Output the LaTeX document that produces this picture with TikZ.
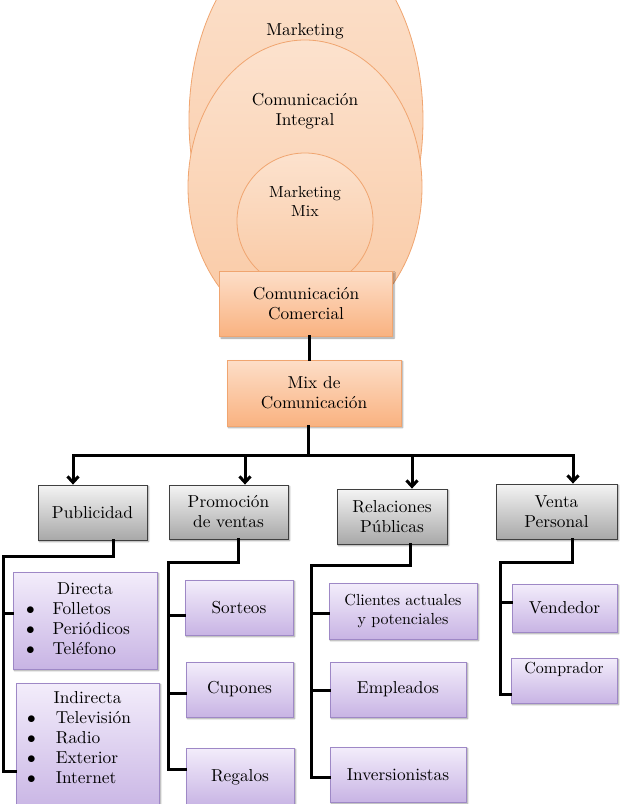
\documentclass[tikz,border=0pt]{standalone}
\usepackage{fontspec}
\setmainfont{lmroman10-regular.otf}[BoldFont=lmroman10-bold.otf, ItalicFont=lmroman10-italic.otf]
\usepackage{tikz}
\usetikzlibrary{shapes,arrows.meta,positioning,calc,shadows.blur}

\definecolor{peachtop}{RGB}{252,226,206}
\definecolor{peachbot}{RGB}{249,200,162}
\definecolor{peachedge}{RGB}{240,165,112}
\definecolor{boxtop}{RGB}{253,222,200}
\definecolor{boxbot}{RGB}{249,178,128}
\definecolor{lilactop}{RGB}{243,237,251}
\definecolor{lilacbot}{RGB}{200,180,228}
\definecolor{lilacedge}{RGB}{158,136,198}
\definecolor{greytop}{RGB}{244,244,244}
\definecolor{greybot}{RGB}{168,168,168}

\tikzset{
  bigtext/.style={font=\fontsize{17.3}{20}\selectfont, align=center},
  smalltext/.style={font=\fontsize{16}{19}\selectfont, align=center},
  softshadow/.style={blur shadow={shadow xshift=1.5pt, shadow yshift=-1.5pt, shadow blur steps=6, shadow opacity=40}},
  bubble/.style={ellipse, draw=peachedge, line width=0.8pt, top color=peachtop, bottom color=peachbot, inner sep=0pt},
  orangebox/.style={rectangle, draw=peachedge, line width=0.8pt, top color=boxtop, bottom color=boxbot, softshadow, bigtext, inner sep=0pt},
  graybox/.style={rectangle, draw=black!75, line width=0.8pt, top color=greytop, bottom color=greybot, softshadow, bigtext, inner sep=0pt},
  purplebox/.style={rectangle, draw=lilacedge, line width=0.8pt, top color=lilactop, bottom color=lilacbot, softshadow, bigtext, inner sep=0pt},
  conn/.style={line width=3pt, line cap=rect},
  arrowconn/.style={line width=3pt, -{Straight Barb[length=6pt,width=11pt]}},
}

\begin{document}
\begin{tikzpicture}[x=1pt, y=-1pt]
  \useasboundingbox (0,0) rectangle (620,804);

  % nested circles
  \node[bubble, minimum width=234pt, minimum height=374pt] (mkt) at (306,120) {};
  \node[bubble, minimum width=234pt, minimum height=294pt] (ci) at (305,187) {};
  \node[bubble, circle, minimum size=136pt] (mm) at (305,221) {};
  \node[bigtext] (mkttxt) at (305,31) {Marketing};
  \node[bigtext] (citxt) at (305,111) {Comunicación\\Integral};
  \node[smalltext] (mmtxt) at (305,201) {Marketing\\Mix};

  \node[orangebox, minimum width=173pt, minimum height=65pt] (cc) at (306,304) {Comunicación\\Comercial};
  \node[orangebox, minimum width=174pt, minimum height=66pt] (mdc) at (314,393) {Mix de\\Comunicación};
  \draw[conn] ([xshift=3pt]cc.south) -- ([xshift=-5pt]mdc.north);

  % the four tools
  \node[graybox, minimum width=109pt, minimum height=55pt] (pub) at (92.5,512.5) {Publicidad};
  \node[graybox, minimum width=119pt, minimum height=54pt] (pv) at (228.5,512) {Promoción\\de ventas};
  \node[graybox, minimum width=110pt, minimum height=55pt] (rp) at (392,516.5) {Relaciones\\Públicas};
  \node[graybox, minimum width=121pt, minimum height=55pt] (vp) at (556.5,511.5) {Venta\\Personal};

  \coordinate (bus) at (308,455);
  \coordinate (arrpub) at (73,455);
  \coordinate (arrpv) at (245,455);
  \coordinate (arrrp) at (412,455);
  \coordinate (arrvp) at (573,455);
  \draw[conn] ([xshift=-6pt]mdc.south) -- (bus);
  \draw[conn] (arrpub) -- (arrvp);
  \draw[arrowconn] (arrpub) -- (arrpub |- pub.north);
  \draw[arrowconn] (arrpv) -- (arrpv |- pv.north);
  \draw[arrowconn] (arrrp) -- (arrrp |- rp.north);
  \draw[arrowconn] (arrvp) -- (arrvp |- vp.north);

  % Publicidad
  \node[purplebox, minimum width=144pt, minimum height=97pt] (dir) at (85,620.5)
    {\begin{tabular}{@{}c@{\hspace{18pt}}l@{\hspace{14pt}}}
      \multicolumn{2}{c}{Directa}\\
      $\bullet$ & Folletos\\
      $\bullet$ & Periódicos\\
      $\bullet$ & Teléfono
    \end{tabular}};
  \node[purplebox, minimum width=143pt, minimum height=130pt] (ind) at (87.5,748)
    {\begin{tabular}{@{}c@{\hspace{20pt}}l@{\hspace{17pt}}}
      \multicolumn{2}{c}{Indirecta}\\
      $\bullet$ & Televisión\\
      $\bullet$ & Radio\\
      $\bullet$ & Exterior\\
      $\bullet$ & Internet\\[18pt]
    \end{tabular}};
  \coordinate (pubrail) at (3,556);
  \coordinate (pubend) at (3,771);
  \coordinate (dirtick) at (3,613);
  \draw[conn] ([xshift=20.5pt]pub.south) |- (pubrail) -- (pubend) -- (pubend -| ind.west);
  \draw[conn] (dirtick) -- (dirtick -| dir.west);

  % Promocion de ventas
  \node[purplebox, minimum width=108pt, minimum height=55pt] (sort) at (239,607.5) {Sorteos};
  \node[purplebox, minimum width=107pt, minimum height=55pt] (cup) at (239.5,689.5) {Cupones};
  \node[purplebox, minimum width=108pt, minimum height=58pt] (reg) at (240,777) {Regalos};
  \coordinate (pvrail) at (168,562);
  \coordinate (pvend) at (168,769);
  \coordinate (sorttick) at (168,615);
  \coordinate (cuptick) at (168,693);
  \draw[conn] ([xshift=9.5pt]pv.south) |- (pvrail) -- (pvend) -- (pvend -| reg.west);
  \draw[conn] (sorttick) -- (sorttick -| sort.west);
  \draw[conn] (cuptick) -- (cuptick -| cup.west);

  % Relaciones publicas
  \node[purplebox, smalltext, minimum width=148pt, minimum height=56pt] (cli) at (403,611) {Clientes actuales\\y potenciales};
  \node[purplebox, minimum width=136pt, minimum height=55pt] (emp) at (398,689.5) {Empleados};
  \node[purplebox, minimum width=136pt, minimum height=55pt] (inv) at (398,774.5) {Inversionistas};
  \coordinate (rprail) at (311,565);
  \coordinate (rpend) at (311,777);
  \coordinate (clitick) at (311,613);
  \coordinate (emptick) at (311,690);
  \draw[conn] ([xshift=18pt]rp.south) |- (rprail) -- (rpend) -- (rpend -| inv.west);
  \draw[conn] (clitick) -- (clitick -| cli.west);
  \draw[conn] (emptick) -- (emptick -| emp.west);

  % Venta personal
  \node[purplebox, minimum width=105pt, minimum height=48pt] (vend) at (564.5,608) {Vendedor};
  \node[purplebox, smalltext, minimum width=106pt, minimum height=45pt] (comp) at (564,680.5) {Comprador\\[6pt]};
  \coordinate (vprail) at (500,562);
  \coordinate (vpend) at (500,694);
  \coordinate (vendtick) at (500,602);
  \draw[conn] ([xshift=15.5pt]vp.south) |- (vprail) -- (vpend) -- (vpend -| comp.west);
  \draw[conn] (vendtick) -- (vendtick -| vend.west);
\end{tikzpicture}
\end{document}
